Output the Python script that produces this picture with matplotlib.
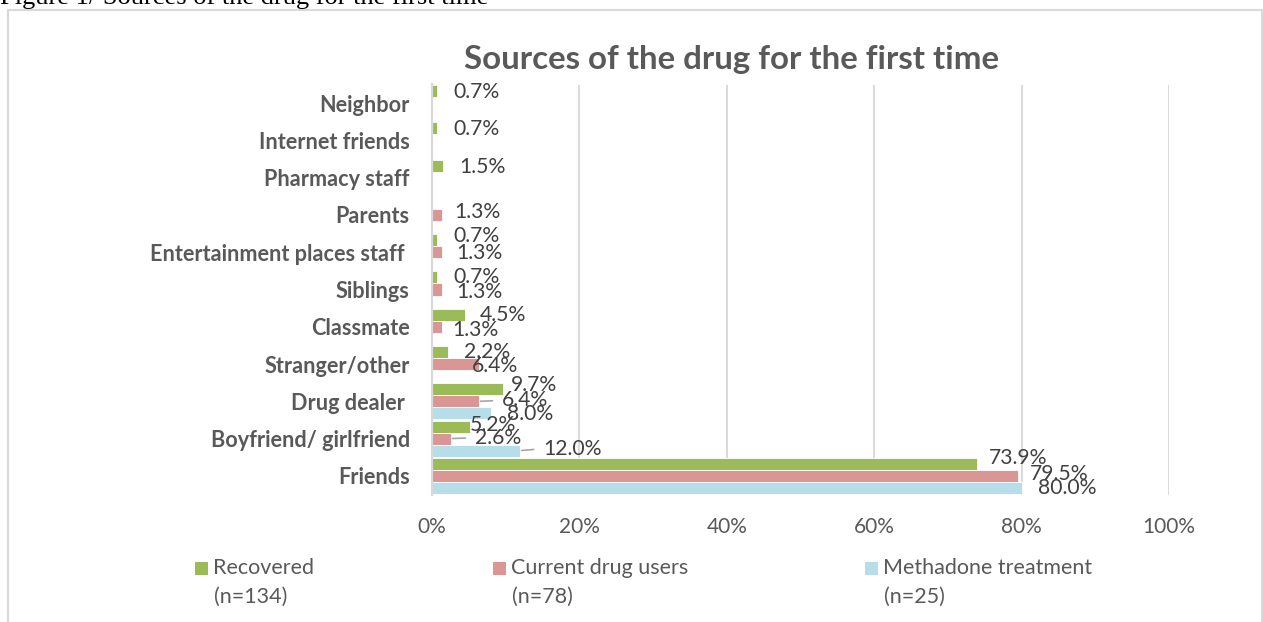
import numpy as np
import matplotlib
matplotlib.use("Agg")
import matplotlib.pyplot as plt
from matplotlib.patches import Rectangle
from matplotlib.ticker import PercentFormatter

# ---- data -------------------------------------------------------------
categories = [
    "Neighbor", "Internet friends", "Pharmacy staff", "Parents",
    "Entertainment places staff ", "Siblings", "Classmate",
    "Stranger/other", "Drug dealer ", "Boyfriend/ girlfriend", "Friends",
]
recovered = [0.7, 0.7, 1.5, np.nan, 0.7, 0.7, 4.5, 2.2, 9.7, 5.2, 73.9]
current_users = [np.nan, np.nan, np.nan, 1.3, 1.3, 1.3, 1.3, 6.4, 6.4, 2.6, 79.5]
methadone = [np.nan] * 8 + [8.0, 12.0, 80.0]

series_names = ["Recovered", "Current drug users", "Methadone treatment"]
series_n = ["(n=134)", "(n=78)", "(n=25)"]
x_ticks = [0, 20, 40, 60, 80, 100]

title = "Sources of the drug for the first time"
caption = "Figure 1/ Sources of the drug for the first time"

# ---- style ------------------------------------------------------------
colors = ["#9BBB59", "#D99694", "#B7DEE8"]
grey_text = "#595959"
label_text = "#404040"
grid_col = "#D9D9D9"
FONT = "Lato"

# label offsets (pixels) relative to bar end / bar centre: (dx, dy_down, leader)
label_offsets = [
    {0: (16, 1, False), 1: (16, 1, False), 2: (16, 1, False), 4: (16, -4, False),
     5: (16, 0, False), 6: (15, 0, False), 7: (16, 0, False), 8: (7, -4, False),
     9: (-1, -2, False), 10: (12, -6, False)},
    {3: (13, -3, False), 4: (15, 1, False), 5: (15, 2, False), 6: (11, 3, False),
     7: (-7, 2, False), 8: (23, -1, True), 9: (24, -1, True), 10: (12, -2, False)},
    {8: (16, 1, False), 9: (23, -2, True), 10: (16, 0, False)},
]

W, H = 1263, 622
fig = plt.figure(figsize=(W / 100, H / 100), dpi=100)
fig.patch.set_facecolor("white")

ax_l, ax_r, ax_t, ax_b = 432, 1169, 84.5, 494.5
ax = fig.add_axes([ax_l / W, 1 - ax_b / H, (ax_r - ax_l) / W, (ax_b - ax_t) / H])

y = np.arange(len(categories))
bar_h = 0.322
all_series = [recovered, current_users, methadone]
offs = [-bar_h, 0.0, bar_h]

for s, vals in enumerate(all_series):
    vals = np.asarray(vals, dtype=float)
    ax.barh(y + offs[s], vals, height=bar_h, color=colors[s],
            edgecolor="white", linewidth=0.6, zorder=3)
    for i, v in enumerate(vals):
        if np.isnan(v):
            continue
        dx, dy, leader = label_offsets[s].get(i, (15, 0, False))
        kw = {}
        if leader:
            kw["arrowprops"] = dict(arrowstyle="-", color="#A6A6A6", lw=1.2,
                                    shrinkA=5, shrinkB=1, relpos=(0, 0.5))
        ax.annotate(f"{v:.1f}%", xy=(v, y[i] + offs[s]),
                    xytext=(dx, -dy), textcoords="offset pixels",
                    ha="left", va="center", fontsize=15.2, color=label_text,
                    family=FONT, zorder=5, **kw)

ax.set_xlim(0, 100)
ax.set_ylim(len(categories) - 0.5, -0.5)
ax.set_xticks(x_ticks)
ax.xaxis.set_major_formatter(PercentFormatter(decimals=0))
ax.set_yticks(y)
ax.set_yticklabels(categories)

for lab in ax.get_yticklabels():
    lab.set_family(FONT)
    lab.set_fontweight("bold")
    lab.set_fontsize(15.6)
    lab.set_color(grey_text)
for lab in ax.get_xticklabels():
    lab.set_family(FONT)
    lab.set_fontsize(15)
    lab.set_color(grey_text)

ax.tick_params(axis="both", length=0)
ax.tick_params(axis="x", pad=16)
ax.tick_params(axis="y", pad=16)
ax.grid(axis="x", color=grid_col, lw=1.4, zorder=0)
ax.set_axisbelow(True)
for side in ["top", "right", "bottom"]:
    ax.spines[side].set_visible(False)
ax.spines["left"].set_color(grid_col)
ax.spines["left"].set_linewidth(1.6)
ax.spines["left"].set_zorder(4)

# title
fig.text(731 / W, 1 - 59 / H, title, ha="center", va="center",
         fontsize=23.8, fontweight="bold", color=grey_text, family=FONT)

# caption above the chart frame
fig.text(0, 1 - 4 / H, caption, ha="left", va="baseline",
         fontsize=19, color="black", family="Liberation Serif")

# chart frame
fig.add_artist(Rectangle((8 / W, -0.05), (1262 - 8) / W, 1 - 10 / H + 0.05,
                         transform=fig.transFigure, fill=False,
                         edgecolor=grid_col, lw=1.5))

# legend
legend_x = [195, 493, 865]
for k in range(3):
    x0 = legend_x[k]
    fig.add_artist(Rectangle((x0 / W, 1 - 575 / H), 13 / W, 13 / H,
                             transform=fig.transFigure, color=colors[k], lw=0))
    fig.text((x0 + 18) / W, 1 - 568 / H, series_names[k], ha="left", va="center",
             fontsize=15.5, color=grey_text, family=FONT)
    fig.text((x0 + 19) / W, 1 - 597 / H, series_n[k], ha="left", va="center",
             fontsize=15.5, color=grey_text, family=FONT)

fig.savefig("out.png", dpi=100, facecolor="white")
